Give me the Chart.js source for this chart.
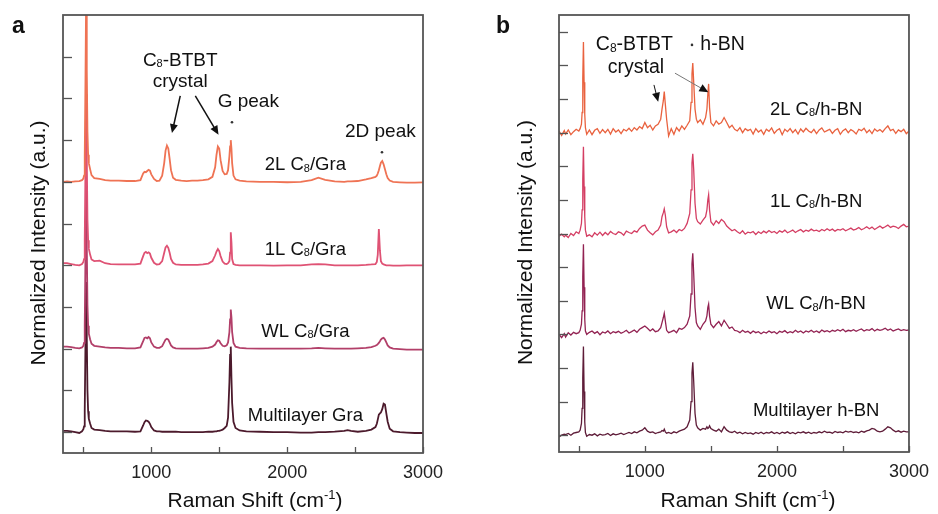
<!DOCTYPE html>
<html>
<head>
<meta charset="utf-8">
<script src="https://cdn.jsdelivr.net/npm/chart.js@4.4.1/dist/chart.umd.min.js"></script>
<style>
  html, body { margin: 0; padding: 0; background: #fff; }
  #wrap { position: relative; width: 938px; height: 514px; }
  canvas { position: absolute; top: 0; }
  #panelA { left: 0; }
  #panelB { left: 469px; }
</style>
</head>
<body>
<div id="wrap">
  <canvas id="panelA" width="469" height="514"></canvas>
  <canvas id="panelB" width="469" height="514"></canvas>
</div>
<script>
// ---------- panel a : C8-BTBT on graphene (normalized, baseline = 0) ----------
const shiftA = [
  350, 380, 410, 440, 470, 490, 500, 505, 510, 515,
  520, 525, 530, 535, 540, 550, 560, 580, 620, 660,
  700, 760, 820, 880, 920, 940, 950, 960, 970, 980,
  990, 1000, 1020, 1040, 1060, 1080, 1095, 1105, 1115, 1125,
  1135, 1145, 1160, 1180, 1220, 1260, 1300, 1340, 1380, 1420,
  1450, 1470, 1480, 1490, 1500, 1510, 1525, 1540, 1555, 1565,
  1575, 1580, 1585, 1590, 1595, 1605, 1620, 1650, 1700, 1800,
  1900, 2000, 2100, 2180, 2230, 2280, 2350, 2420, 2445, 2470,
  2520, 2580, 2620, 2650, 2660, 2667, 2675, 2683, 2690, 2700,
  2710, 2720, 2730, 2740, 2755, 2780, 2830, 2880, 2940, 3000
];
const gra2L = [
  0.00, 0.01, 0.00, 0.01, 0.02, 0.04, 0.08, 0.15, 0.60, 2.3,
  4.3, 2.7, 1.20, 0.65, 0.45, 0.30, 0.16, 0.09, 0.07, 0.04,
  0.03, 0.03, 0.02, 0.02, 0.04, 0.20, 0.24, 0.23, 0.26, 0.29,
  0.27, 0.18, 0.07, 0.02, 0.03, 0.15, 0.45, 0.75, 0.87, 0.80,
  0.55, 0.28, 0.10, 0.05, 0.03, 0.02, 0.03, 0.03, 0.04, 0.06,
  0.12, 0.35, 0.65, 0.85, 0.80, 0.52, 0.26, 0.18, 0.19, 0.28,
  0.62, 0.85, 1.00, 0.80, 0.45, 0.15, 0.06, 0.03, 0.01, 0.00,
  0.00, -0.01, 0.00, 0.04, 0.10, 0.05, 0.01, 0.00, 0.01, 0.01,
  0.02, 0.06, 0.09, 0.12, 0.15, 0.20, 0.28, 0.38, 0.46, 0.50,
  0.42, 0.30, 0.18, 0.09, 0.03, 0.00, -0.01, -0.02, -0.02, -0.01
];
const gra1L = [
  0.05, 0.05, 0.03, 0.01, 0.00, 0.03, 0.08, 0.15, 0.60, 2.2,
  4.1, 2.6, 1.10, 0.60, 0.40, 0.25, 0.14, 0.10, 0.11, 0.05,
  0.03, 0.02, 0.02, 0.02, 0.04, 0.22, 0.30, 0.32, 0.29, 0.31,
  0.28, 0.18, 0.06, 0.02, 0.03, 0.10, 0.30, 0.43, 0.47, 0.42,
  0.30, 0.15, 0.06, 0.02, 0.01, 0.01, 0.01, 0.01, 0.02, 0.04,
  0.10, 0.24, 0.33, 0.39, 0.34, 0.22, 0.09, 0.04, 0.03, 0.05,
  0.10, 0.30, 0.79, 0.55, 0.15, 0.03, 0.01, 0.00, 0.00, 0.00,
  -0.01, 0.00, 0.00, 0.02, 0.03, 0.02, 0.00, 0.00, 0.00, 0.00,
  0.00, 0.01, 0.02, 0.03, 0.08, 0.25, 0.87, 0.35, 0.10, 0.04,
  0.02, 0.01, 0.00, 0.00, 0.00, -0.01, -0.01, 0.00, 0.00, 0.00
];
const graWL = [
  0.05, 0.05, 0.04, 0.02, 0.01, 0.03, 0.07, 0.14, 0.55, 2.1,
  3.9, 2.5, 1.05, 0.55, 0.36, 0.22, 0.12, 0.07, 0.05, 0.03,
  0.02, 0.02, 0.01, 0.01, 0.03, 0.18, 0.26, 0.27, 0.25, 0.28,
  0.25, 0.15, 0.05, 0.02, 0.02, 0.06, 0.16, 0.22, 0.24, 0.22,
  0.15, 0.08, 0.03, 0.01, 0.00, 0.00, 0.00, 0.00, 0.01, 0.02,
  0.05, 0.10, 0.16, 0.20, 0.19, 0.13, 0.07, 0.06, 0.08, 0.15,
  0.40, 0.70, 0.94, 0.75, 0.40, 0.14, 0.05, 0.02, 0.01, 0.00,
  0.00, 0.00, 0.00, 0.01, 0.02, 0.01, 0.00, 0.00, 0.00, 0.00,
  0.01, 0.02, 0.04, 0.07, 0.09, 0.11, 0.14, 0.18, 0.22, 0.25,
  0.26, 0.22, 0.15, 0.08, 0.03, 0.00, -0.01, -0.02, -0.02, -0.02
];
const graML = [
  0.03, 0.03, 0.02, 0.00, -0.02, 0.02, 0.07, 0.14, 0.50, 2.0,
  3.6, 2.3, 1.00, 0.50, 0.32, 0.20, 0.10, 0.06, 0.05, 0.03,
  0.02, 0.02, 0.02, 0.01, 0.02, 0.16, 0.24, 0.28, 0.27, 0.25,
  0.20, 0.12, 0.04, 0.02, 0.02, 0.01, 0.01, 0.01, 0.01, 0.01,
  0.01, 0.01, 0.01, 0.01, 0.00, 0.00, 0.00, 0.00, 0.00, 0.01,
  0.01, 0.02, 0.02, 0.03, 0.03, 0.04, 0.06, 0.10, 0.15, 0.35,
  1.20, 1.85, 2.05, 1.30, 0.70, 0.25, 0.10, 0.04, 0.02, 0.01,
  0.00, 0.00, -0.01, -0.01, 0.00, 0.00, 0.01, 0.03, 0.05, 0.03,
  0.01, 0.03, 0.06, 0.12, 0.20, 0.30, 0.42, 0.45, 0.47, 0.55,
  0.68, 0.66, 0.45, 0.25, 0.08, 0.02, 0.00, -0.01, -0.02, -0.02
];

// ---------- panel b : C8-BTBT on h-BN ----------
const shiftB = [
  350, 370, 390,
  400, 420, 440, 460, 480,
  500, 510, 520, 525, 530, 535, 540, 545, 550, 560, 580,
  600, 620, 640, 660, 680,
  700, 720, 740, 760, 780,
  800, 820, 840, 860, 880,
  900, 920, 940, 960, 980,
  1000, 1020, 1040, 1060, 1080,
  1100, 1120, 1130, 1140, 1147, 1155, 1165, 1180,
  1200, 1220, 1240, 1260, 1280,
  1300, 1320, 1340, 1350, 1357, 1363, 1370, 1380, 1390,
  1400, 1420, 1440, 1460, 1470, 1477, 1483, 1490,
  1500, 1520, 1540, 1560, 1580,
  1600, 1620, 1640, 1660, 1680,
  1700, 1720, 1740, 1760, 1780,
  1800, 1820, 1840, 1860, 1880,
  1900, 1920, 1940, 1960, 1980,
  2000, 2020, 2040, 2060, 2080,
  2100, 2120, 2140, 2160, 2180,
  2200, 2220, 2240, 2260, 2280,
  2300, 2320, 2340, 2360, 2380,
  2400, 2420, 2440, 2460, 2480,
  2500, 2520, 2540, 2560, 2580,
  2600, 2620, 2640, 2660, 2680,
  2700, 2720, 2740, 2760, 2780,
  2800, 2820, 2840, 2860, 2880,
  2900, 2920, 2940, 2960, 2980,
  3000
];
const bn2L = [
  0.05, -0.08, 0.06,
  -0.04, 0.08, -0.06, 0.03, 0.10,
  0.05, 0.12, 0.25, 0.6, 1.6, 2.7, 1.5, 0.55, 0.15, -0.05, 0.08,
  -0.06, 0.07, 0.12, -0.02, 0.09,
  0.00, 0.10, -0.04, 0.12, 0.02,
  0.08, -0.03, 0.10, 0.05, 0.13,
  0.04, 0.15, 0.08, 0.18, 0.12,
  0.30, 0.15, 0.22, 0.08, 0.20,
  0.25, 0.40, 0.70, 0.95, 1.22, 0.85, 0.40, -0.10,
  0.12, -0.05, 0.15, 0.05, 0.20,
  0.10, 0.22, 0.35, 0.90, 1.75, 2.07, 1.50, 0.70, 0.40,
  0.30, 0.38, 0.25, 0.45, 0.70, 1.15, 1.45, 0.75,
  0.30, 0.20, 0.35, 0.25, 0.30,
  0.45, 0.30, 0.15, 0.22, 0.10,
  0.05, 0.15, 0.00, 0.12, 0.06,
  0.10, -0.04, 0.12, 0.02, 0.08,
  -0.05, 0.10, 0.04, 0.14, -0.02,
  0.07, 0.12, -0.06, 0.10, 0.03,
  0.12, 0.00, 0.09, -0.04, 0.11,
  0.02, 0.13, 0.05, 0.00, 0.10,
  -0.03, 0.08, 0.14, 0.02, 0.06,
  0.10, -0.02, 0.07, 0.12, -0.05,
  0.06, 0.11, 0.00, 0.09, 0.04,
  -0.04, 0.10, 0.06, 0.13, 0.00,
  0.08, -0.03, 0.11, 0.04, 0.09,
  0.02, 0.12, 0.20, 0.06, 0.10,
  -0.02, 0.08, 0.03, 0.10, -0.03,
  0.05
];
const bn1L = [
  -0.08, -0.02, -0.10,
  -0.05, -0.12, 0.00, -0.06, 0.05,
  0.00, 0.10, 0.30, 0.70, 1.6, 2.58, 1.4, 0.50, 0.10, -0.08, -0.04,
  -0.10, 0.02, -0.05, 0.04, -0.06,
  0.03, -0.04, 0.06, 0.00, -0.03,
  0.05, 0.02, -0.05, 0.07, 0.03,
  0.00, 0.08, 0.04, 0.15, 0.22,
  0.25, 0.10, 0.02, -0.04, 0.05,
  0.10, 0.25, 0.50, 0.62, 0.73, 0.55, 0.20, 0.02,
  0.05, 0.10, 0.03, 0.12, 0.08,
  0.15, 0.30, 0.60, 1.30, 2.10, 2.37, 1.90, 0.90, 0.45,
  0.35, 0.28, 0.40, 0.50, 0.70, 1.00, 1.15, 0.70,
  0.35, 0.25, 0.38, 0.30, 0.42,
  0.35, 0.22, 0.15, 0.08, 0.12,
  0.05, 0.00, 0.08, -0.02, 0.04,
  0.02, 0.06, -0.03, 0.05, 0.00,
  0.07, 0.02, 0.09, 0.03, 0.06,
  0.00, 0.08, 0.04, 0.10, 0.02,
  0.06, 0.10, 0.03, 0.08, 0.12,
  0.05, 0.10, 0.07, 0.13, 0.08,
  0.10, 0.06, 0.12, 0.08, 0.14,
  0.09, 0.13, 0.07, 0.12, 0.10,
  0.14, 0.08, 0.12, 0.16, 0.10,
  0.13, 0.18, 0.11, 0.15, 0.20,
  0.14, 0.19, 0.12, 0.17, 0.22,
  0.16, 0.20, 0.25, 0.18, 0.22,
  0.20, 0.15, 0.22, 0.27, 0.20,
  0.22
];
const bnWL = [
  0.00, -0.10, 0.02,
  -0.08, 0.05, -0.02, 0.06, 0.02,
  0.05, 0.12, 0.30, 0.70, 1.7, 2.68, 1.4, 0.45, 0.10, 0.00, 0.06,
  0.10, 0.03, 0.08, -0.01, 0.07,
  0.04, 0.10, 0.02, 0.08, 0.05,
  0.09, 0.03, 0.07, 0.12, 0.04,
  0.08, 0.13, 0.06, 0.15, 0.20,
  0.25, 0.18, 0.10, 0.16, 0.08,
  0.10, 0.20, 0.35, 0.50, 0.63, 0.40, 0.12, 0.05,
  0.08, 0.12, 0.05, 0.18, 0.15,
  0.20, 0.30, 0.55, 1.20, 2.10, 2.41, 1.80, 0.80, 0.35,
  0.25, 0.15, 0.30, 0.40, 0.55, 0.80, 0.90, 0.55,
  0.30, 0.20, 0.30, 0.38, 0.25,
  0.42, 0.30, 0.18, 0.22, 0.12,
  0.10, 0.05, 0.12, 0.06, 0.09,
  0.03, 0.10, 0.05, 0.08, 0.02,
  0.07, 0.04, 0.10, 0.05, 0.08,
  0.02, 0.09, 0.06, 0.11, 0.04,
  0.08, 0.05, 0.12, 0.06, 0.10,
  0.04, 0.10, 0.07, 0.12, 0.06,
  0.10, 0.05, 0.13, 0.08, 0.11,
  0.07, 0.12, 0.09, 0.14, 0.10,
  0.15, 0.08, 0.12, 0.10, 0.14,
  0.09, 0.13, 0.16, 0.10, 0.14,
  0.12, 0.17, 0.10, 0.15, 0.12,
  0.14, 0.18, 0.12, 0.16, 0.10,
  0.13, 0.16, 0.11, 0.14, 0.12,
  0.13
];
const bnML = [
  -0.05, 0.00, 0.03,
  0.02, 0.05, 0.00, 0.06, 0.08,
  0.10, 0.15, 0.35, 0.80, 1.7, 2.64, 1.3, 0.40, 0.08, -0.03, 0.02,
  0.00, 0.04, -0.02, 0.03, 0.00,
  0.02, 0.05, -0.01, 0.04, 0.01,
  0.03, 0.06, 0.02, 0.05, 0.08,
  0.05, 0.10, 0.07, 0.12, 0.15,
  0.22, 0.12, 0.08, 0.10, 0.05,
  0.08, 0.10, 0.14, 0.12, 0.18, 0.10, 0.06, 0.08,
  0.05, 0.10, 0.07, 0.12, 0.15,
  0.18, 0.25, 0.45, 1.00, 1.85, 2.17, 1.60, 0.65, 0.30,
  0.22, 0.15, 0.20, 0.18, 0.25, 0.20, 0.22, 0.28,
  0.20, 0.15, 0.12, 0.18, 0.10,
  0.25, 0.15, 0.10, 0.08, 0.12,
  0.06, 0.09, 0.04, 0.08, 0.05,
  0.07, 0.03, 0.08, 0.05, 0.09,
  0.04, 0.08, 0.06, 0.10, 0.05,
  0.08, 0.04, 0.09, 0.06, 0.10,
  0.05, 0.08, 0.04, 0.09, 0.07,
  0.10, 0.06, 0.09, 0.05, 0.08,
  0.06, 0.10, 0.07, 0.12, 0.08,
  0.09, 0.06, 0.11, 0.08, 0.10,
  0.07, 0.12, 0.09, 0.11, 0.08,
  0.10, 0.07, 0.12, 0.09, 0.13,
  0.15, 0.20, 0.18, 0.12, 0.10,
  0.12, 0.18, 0.25, 0.22, 0.15,
  0.10, 0.13, 0.09, 0.12, 0.10,
  0.10
];

// axis ticks (x labelled every 1000, minor marks every 500)
const ramanTicks = [500, 1000, 1500, 2000, 2500, 3000];
const yTicksA = [0, 1, 2, 3, 4, 5, 6, 7, 8, 9];
const yTicksB = [0, 1, 2, 3, 4, 5, 6, 7, 8, 9, 10, 11, 12];

const FONT = '"Liberation Sans", Arial, Helvetica, sans-serif';
Chart.defaults.font.family = FONT;

// "_8" -> subscript, "^-1" -> superscript
function drawRich(ctx, str, x, y, size, align) {
  const parts = [];
  const re = /_(\d)|\^(-?\d)/g;
  let last = 0, m;
  while ((m = re.exec(str))) {
    if (m.index > last) parts.push({ t: str.slice(last, m.index), k: 0 });
    parts.push(m[1] ? { t: m[1], k: 1 } : { t: m[2], k: -1 });
    last = re.lastIndex;
  }
  if (last < str.length) parts.push({ t: str.slice(last), k: 0 });
  const fontFor = k => (k ? Math.round(size * 0.6) : size) + 'px ' + FONT;
  let w = 0;
  parts.forEach(p => { ctx.font = fontFor(p.k); p.w = ctx.measureText(p.t).width; w += p.w; });
  let cx = align === 'left' ? x : x - w / 2;
  ctx.textAlign = 'left';
  ctx.textBaseline = 'alphabetic';
  parts.forEach(p => {
    ctx.font = fontFor(p.k);
    const dy = p.k === 1 ? size * 0.08 : (p.k === -1 ? -size * 0.4 : 0);
    ctx.fillText(p.t, cx, y + dy);
    cx += p.w;
  });
}

function arrow(ctx, x1, y1, x2, y2, color, lw) {
  const a = Math.atan2(y2 - y1, x2 - x1);
  const h = 9, hw = 4;
  ctx.strokeStyle = color;
  ctx.lineWidth = lw;
  ctx.beginPath();
  ctx.moveTo(x1, y1);
  ctx.lineTo(x2 - Math.cos(a) * h * 0.8, y2 - Math.sin(a) * h * 0.8);
  ctx.stroke();
  ctx.fillStyle = '#111';
  ctx.beginPath();
  ctx.moveTo(x2, y2);
  ctx.lineTo(x2 - h * Math.cos(a) + hw * Math.sin(a), y2 - h * Math.sin(a) - hw * Math.cos(a));
  ctx.lineTo(x2 - h * Math.cos(a) - hw * Math.sin(a), y2 - h * Math.sin(a) + hw * Math.cos(a));
  ctx.closePath();
  ctx.fill();
}

// frame, inward ticks, titles and annotations
function decor(opt) {
  return {
    id: 'decor',
    afterDraw(chart) {
      const { ctx, chartArea: ca, scales: { x, y } } = chart;
      const px = v => x.getPixelForValue(v);
      const py = v => y.getPixelForValue(v);
      ctx.save();
      ctx.strokeStyle = '#555';
      ctx.lineWidth = 1.3;
      opt.yTicks.forEach(v => {
        const yy = Math.round(py(v)) + 0.5;
        ctx.beginPath(); ctx.moveTo(ca.left, yy); ctx.lineTo(ca.left + 9, yy); ctx.stroke();
      });
      ramanTicks.forEach(v => {
        const xx = Math.round(px(v)) + 0.5;
        ctx.beginPath(); ctx.moveTo(xx, ca.bottom); ctx.lineTo(xx, ca.bottom - 6); ctx.stroke();
      });
      ctx.lineWidth = 1.8;
      ctx.strokeStyle = '#555';
      ctx.strokeRect(ca.left, ca.top, ca.right - ca.left, ca.bottom - ca.top);

      ctx.fillStyle = '#111';
      // axis titles
      drawRich(ctx, 'Raman Shift (cm^-1)', (ca.left + ca.right) / 2 + opt.xTitleDx, 507, 21, 'center');
      ctx.save();
      ctx.translate(ca.left + opt.yTitleDx, (ca.top + ca.bottom) / 2 + 9);
      ctx.rotate(-Math.PI / 2);
      drawRich(ctx, 'Normalized Intensity (a.u.)', 0, 7, 21, 'center');
      ctx.restore();
      // panel letter
      ctx.font = 'bold 23px ' + FONT;
      ctx.textAlign = 'left';
      ctx.textBaseline = 'alphabetic';
      ctx.fillText(opt.letter, opt.letterX, 33);

      opt.texts.forEach(t => drawRich(ctx, t[0], px(t[1]), py(t[2]), t[3], t[4] || 'center'));
      opt.dots.forEach(d => {
        ctx.fillStyle = '#333';
        ctx.beginPath(); ctx.arc(px(d[0]), py(d[1]), 1.3, 0, Math.PI * 2); ctx.fill();
      });
      opt.arrows.forEach(a => arrow(ctx, px(a[0]), py(a[1]), px(a[2]), py(a[3]), a[4], a[5]));
      ctx.restore();
    }
  };
}

function makeDatasets(xs, series, offsets, colors, width) {
  return series.map((vals, k) => ({
    data: xs.map((x, i) => ({ x: x, y: vals[i] + offsets[k] })),
    borderColor: colors[k],
    borderWidth: width,
    pointRadius: 0,
    tension: 0,
    fill: false
  }));
}

function makeChart(id, datasets, yMax, pad, xFit, yFit, plugin) {
  return new Chart(document.getElementById(id), {
    type: 'line',
    data: { datasets: datasets },
    options: {
      responsive: false,
      animation: false,
      layout: { padding: pad },
      plugins: { legend: { display: false }, tooltip: { enabled: false } },
      scales: {
        x: {
          type: 'linear', min: 350, max: 3000,
          grid: { display: false, drawTicks: false },
          border: { display: false },
          afterBuildTicks: s => { s.ticks = ramanTicks.map(v => ({ value: v })); },
          afterFit: s => { s.height = xFit; },
          ticks: {
            autoSkip: false, maxRotation: 0, padding: 9, color: '#222',
            font: { size: 18 },
            callback: v => (v % 1000 === 0 ? String(v) : '')
          }
        },
        y: {
          type: 'linear', min: -0.5, max: yMax,
          grid: { display: false, drawTicks: false },
          border: { display: false },
          ticks: { display: false },
          afterFit: s => { s.width = yFit; }
        }
      }
    },
    plugins: [plugin]
  });
}

const colorsA = ['#EF7354', '#DF5274', '#B23F69', '#4C1A2C'];
const colorsB = ['#E9623F', '#D43E63', '#922252', '#5E1C38'];

makeChart('panelA',
  makeDatasets(shiftA, [gra2L, gra1L, graWL, graML], [6, 4, 2, 0], colorsA, 1.8),
  10, { left: 0, top: 15, right: 46, bottom: 0 }, 61, 63,
  decor({
    letter: 'a', letterX: 12, yTicks: yTicksA, xTitleDx: 12, yTitleDx: -25,
    texts: [
      ['C_8-BTBT', 1213, 8.78, 19], ['crystal', 1213, 8.28, 19], ['G peak', 1714, 7.80, 19], ['2D peak', 2686, 7.08, 19],
      ['2L C_8/Gra', 2134, 6.28, 18.5], ['1L C_8/Gra', 2134, 4.25, 18.5], ['WL C_8/Gra', 2134, 2.29, 18.5], ['Multilayer Gra', 2134, 0.275, 18.5]
    ],
    dots: [[1594, 7.43], [2698, 6.71]],
    arrows: [[1213, 8.06, 1152, 7.17, '#111', 1.5], [1324, 8.06, 1495, 7.13, '#111', 1.5]]
  }));

makeChart('panelB',
  makeDatasets(shiftB, [bn2L, bn1L, bnWL, bnML], [9, 6, 3, 0], colorsB, 1.3),
  12.5, { left: 0, top: 15, right: 20, bottom: 0 }, 62, 90,
  decor({
    letter: 'b', letterX: 27, yTicks: yTicksB, xTitleDx: 14, yTitleDx: -34,
    texts: [
      ['C_8-BTBT', 921, 11.46, 19.5], ['crystal', 933, 10.78, 19.5], ['h-BN', 1420, 11.46, 19.5, 'left'],
      ['2L C_8/h-BN', 2297, 9.53, 18.5], ['1L C_8/h-BN', 2297, 6.80, 18.5], ['WL C_8/h-BN', 2297, 3.75, 18.5], ['Multilayer h-BN', 2297, 0.58, 18.5]
    ],
    dots: [[1357, 11.61]],
    arrows: [[1069, 10.42, 1101, 9.92, '#111', 1], [1228, 10.77, 1481, 10.20, '#777', 1]]
  }));
</script>
</body>
</html>
